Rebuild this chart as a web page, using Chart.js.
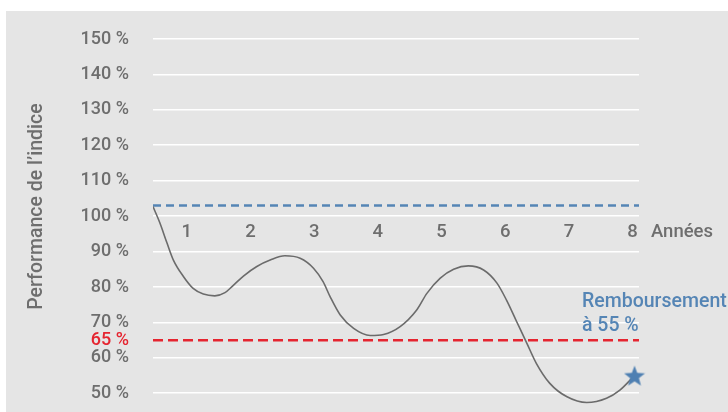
<!DOCTYPE html>
<html lang="fr">
<head>
<meta charset="utf-8">
<title>Performance de l’indice</title>
<script src="https://cdn.jsdelivr.net/npm/chart.js@4/dist/chart.umd.min.js"></script>
<style>
  html, body { margin: 0; padding: 0; background: #ffffff; }
  #wrap { width: 728px; height: 412px; }
</style>
</head>
<body>
<div id="wrap"><canvas id="chart" width="728" height="412"></canvas></div>
<script>
// Years shown along the 100 % line
const yearTicks = [1, 2, 3, 4, 5, 6, 7, 8];
// Performance axis ticks (%), plus the 65 % barrier
const perfTicks = [50, 60, 70, 80, 90, 100, 110, 120, 130, 140, 150];
const barrierLevel = 65;
const initialLevel = 103;
// Simulated index path (years, % of initial level)
const pathYears = [0.47, 0.58, 0.69, 0.79, 0.95, 1.10, 1.26, 1.44, 1.60, 1.71, 1.89, 2.10, 2.31, 2.54, 2.78, 2.99, 3.14, 3.25, 3.41, 3.62, 3.88, 4.09, 4.35, 4.61, 4.77, 4.98, 5.19, 5.42, 5.66, 5.87, 6.02, 6.18, 6.34, 6.49, 6.70, 6.97, 7.28, 7.59, 7.80, 8.03];
const pathPerf  = [102.7, 98.0, 92.4, 87.6, 82.9, 79.6, 78.0, 77.5, 78.4, 80.1, 83.1, 85.8, 87.6, 88.8, 88.1, 85.3, 81.5, 77.3, 72.1, 68.3, 66.3, 66.6, 68.8, 73.5, 78.2, 82.5, 85.0, 85.95, 84.8, 81.1, 76.3, 70.2, 64.1, 58.4, 52.8, 49.0, 47.4, 48.6, 50.9, 55];
// Final repayment
const repaymentYear = 8.03;
const repaymentPerf = 55;

const X_MIN = 0.47, X_MAX = 8.1;
const FONT = 'Roboto, "Liberation Sans", sans-serif';
const GREY_TEXT = '#6e6e6e';
const BLUE = '#5585b5';
const RED = '#e52530';

// Filled five-point star used as the final marker
function makeStar(size, color) {
  const c = document.createElement('canvas');
  c.width = size; c.height = size;
  const g = c.getContext('2d');
  const cx = size / 2, cy = size / 2 + size * 0.05;
  const ro = size / 2, ri = ro * 0.42;
  g.beginPath();
  for (let i = 0; i < 10; i++) {
    const r = i % 2 === 0 ? ro : ri;
    const a = -Math.PI / 2 + i * Math.PI / 5;
    const px = cx + r * Math.cos(a), py = cy + r * Math.sin(a);
    if (i === 0) g.moveTo(px, py); else g.lineTo(px, py);
  }
  g.closePath();
  g.fillStyle = color;
  g.fill();
  return c;
}

const backdrop = {
  id: 'backdrop',
  beforeDraw(chart) {
    const ctx = chart.ctx;
    ctx.save();
    ctx.fillStyle = '#e5e5e5';
    ctx.fillRect(6, 11, chart.width - 6, chart.height - 11);
    ctx.restore();
  }
};

const annotations = {
  id: 'annotations',
  afterDraw(chart) {
    const { ctx, chartArea, scales } = chart;
    const yLine = scales.y.getPixelForValue(100);
    ctx.save();
    ctx.textBaseline = 'middle';
    ctx.textAlign = 'left';
    ctx.font = '500 18.5px ' + FONT;
    ctx.fillStyle = GREY_TEXT;
    ctx.fillText('Années', chartArea.right + 12, yLine + 16);
    ctx.fillStyle = BLUE;
    ctx.font = '500 19.5px ' + FONT;
    const bx = chartArea.right - 57;
    ctx.fillText('Remboursement', bx, scales.y.getPixelForValue(75.8));
    ctx.fillText('à 55 %', bx, scales.y.getPixelForValue(68.9));
    // vertical axis title
    ctx.translate(37, scales.y.getPixelForValue(102.7));
    ctx.rotate(-Math.PI / 2);
    ctx.textAlign = 'center';
    ctx.font = '500 19.5px ' + FONT;
    ctx.fillStyle = GREY_TEXT;
    ctx.fillText('Performance de l’indice', 0, 0);
    ctx.restore();
  }
};

const pathData = pathYears.map((x, i) => ({ x, y: pathPerf[i] }));

new Chart(document.getElementById('chart'), {
  type: 'line',
  data: {
    datasets: [
      {
        data: [{ x: X_MIN, y: initialLevel }, { x: X_MAX, y: initialLevel }],
        borderColor: BLUE, borderWidth: 2.5, borderDash: [8, 5],
        pointRadius: 0, order: 3
      },
      {
        data: [{ x: X_MIN, y: barrierLevel }, { x: X_MAX, y: barrierLevel }],
        borderColor: RED, borderWidth: 2.5, borderDash: [10, 5],
        pointRadius: 0, order: 2
      },
      {
        data: pathData,
        borderColor: '#6b6b6b', borderWidth: 1.6,
        cubicInterpolationMode: 'monotone',
        pointRadius: 0, order: 1
      },
      {
        data: [{ x: repaymentYear, y: repaymentPerf }],
        showLine: false,
        clip: false,
        pointStyle: makeStar(22, '#4f80b2'),
        pointRadius: 11, order: 0
      }
    ]
  },
  options: {
    responsive: false,
    animation: false,
    events: [],
    layout: { autoPadding: false, padding: { top: 39, right: 89, bottom: 1, left: 0 } },
    plugins: { legend: { display: false }, tooltip: { enabled: false } },
    scales: {
      x: {
        type: 'linear',
        position: { y: 100 },
        min: X_MIN, max: X_MAX,
        afterBuildTicks(scale) { scale.ticks = yearTicks.map(v => ({ value: v })); },
        afterFit(scale) { scale.height = 0; scale.paddingLeft = 0; scale.paddingRight = 0; },
        grid: { display: false, drawTicks: false },
        border: { display: false },
        ticks: {
          color: GREY_TEXT,
          font: { family: FONT, size: 18.5, weight: '500' },
          padding: 5,
          maxRotation: 0,
          autoSkip: false,
          callback: v => String(v)
        }
      },
      y: {
        type: 'linear',
        min: 45, max: 150,
        afterBuildTicks(scale) {
          scale.ticks = perfTicks.concat([barrierLevel]).sort((a, b) => a - b).map(v => ({ value: v }));
        },
        afterFit(scale) { scale.width = 153; scale.paddingTop = 0; scale.paddingBottom = 0; },
        grid: {
          drawTicks: false,
          lineWidth: 1.6,
          color: ctx => (ctx.tick && ctx.tick.value === barrierLevel) ? 'rgba(0,0,0,0)' : '#ffffff'
        },
        border: { display: false },
        ticks: {
          padding: 24,
          autoSkip: false,
          font: { family: FONT, size: 18, weight: '500' },
          color: ctx => (ctx.tick && ctx.tick.value === barrierLevel) ? RED : GREY_TEXT,
          callback: v => v + ' %'
        }
      }
    }
  },
  plugins: [backdrop, annotations]
});
</script>
</body>
</html>
